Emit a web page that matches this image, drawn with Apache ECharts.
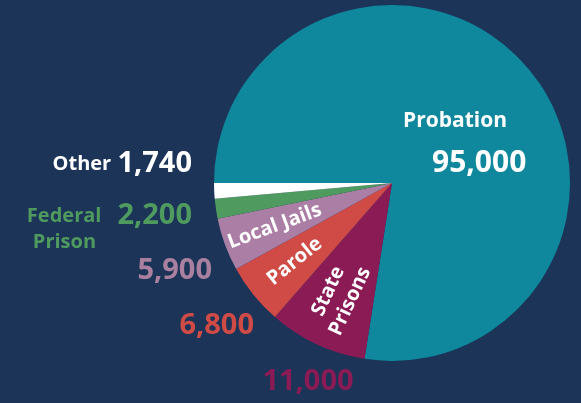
<!DOCTYPE html>
<html>
<head>
<meta charset="utf-8">
<script src="https://cdn.jsdelivr.net/npm/echarts@6/dist/echarts.min.js"></script>
<style>
  html, body { margin: 0; padding: 0; background: #1a3356; }
  #chart { width: 581px; height: 403px; }
</style>
</head>
<body>
<div id="chart"></div>
<script>
// Correctional population by supervision type
const categories = ['Probation', 'State Prisons', 'Parole', 'Local Jails', 'Federal Prison', 'Other'];
const values = [95000, 11000, 6800, 5900, 2200, 1740];
const sliceColors = ['#0f889e', '#8a1b55', '#d04b46', '#ab7fa5', '#4f9b5f', '#ffffff'];
const valueColors = ['#ffffff', '#8a1b55', '#d04b46', '#a9809f', '#4f9b5f', '#ffffff'];
// names drawn inside their wedge (others are written next to the value)
const insideNames = [null, 'State\nPrisons', 'Parole', 'Local Jails', null, null];

const CX = 392, CY = 183, R = 178;
const FONT = '"Open Sans", "Noto Sans", sans-serif';

// where each value label sits, relative to the pie centre
const valueSpots = [
  { dx: 11,   dy: -76, align: 'left',   verticalAlign: 'top' },
  { dx: -84,  dy: 199, align: 'center', verticalAlign: 'middle' },
  { dx: -138, dy: 143, align: 'right',  verticalAlign: 'middle' },
  { dx: -180, dy: 88,  align: 'right',  verticalAlign: 'middle' },
  { dx: -200, dy: 44,  align: 'right',  verticalAlign: 'middle' },
  { dx: -200, dy: -19, align: 'right',  verticalAlign: 'middle' }
];

const fmt = v => v.toLocaleString('en-US');

function valueText(i) {
  const v = fmt(values[i]);
  const name = categories[i];
  if (i === 0) return '{pn|' + name + '}\n{pv|' + v + '}';
  if (i === 4) {
    const parts = name.split(' ');
    return '{n|' + parts[0] + '}{fv|' + v + '}\n{p|' + parts[1] + '}';
  }
  if (i === 5) return '{n|' + name + '}  {v|' + v + '}';
  return '{v|' + v + '}';
}

const chart = echarts.init(document.getElementById('chart'), null, { renderer: 'canvas' });

chart.setOption({
  backgroundColor: '#1b3457',
  animation: false,
  series: [
    {
      type: 'pie',
      center: [CX, CY],
      radius: R,
      startAngle: 180,
      clockwise: true,
      avoidLabelOverlap: false,
      silent: true,
      emphasis: { disabled: true },
      labelLine: { show: false },
      label: {
        show: true,
        position: 'outside',
        fontFamily: FONT,
        fontWeight: 700,
        formatter: p => valueText(p.dataIndex),
        rich: {
          n: { fontFamily: FONT, fontWeight: 700, fontSize: 20, lineHeight: 30 },
          v: { fontFamily: FONT, fontWeight: 700, fontSize: 29, lineHeight: 30 },
          fv: { fontFamily: FONT, fontWeight: 700, fontSize: 29, lineHeight: 30, padding: [0, 0, 0, 16] },
          p: { fontFamily: FONT, fontWeight: 700, fontSize: 20, lineHeight: 22, align: 'left', padding: [0, 0, 0, 6] },
          pn: { fontFamily: FONT, fontWeight: 700, fontSize: 21, lineHeight: 28 },
          pv: { fontFamily: FONT, fontWeight: 700, fontSize: 30, lineHeight: 56, padding: [0, 0, 0, 29] }
        }
      },
      labelLayout: p => {
        const s = valueSpots[p.dataIndex];
        return { x: CX + s.dx, y: CY + s.dy, align: s.align, verticalAlign: s.verticalAlign };
      },
      data: categories.map((c, i) => ({
        name: c,
        value: values[i],
        itemStyle: { color: sliceColors[i] },
        label: { color: valueColors[i] }
      }))
    },
    {
      // transparent ring carrying the wedge names
      type: 'pie',
      center: [CX, CY],
      radius: [66, R],
      startAngle: 180,
      clockwise: true,
      avoidLabelOverlap: false,
      silent: true,
      emphasis: { disabled: true },
      labelLine: { show: false },
      itemStyle: { color: 'rgba(0,0,0,0)' },
      label: {
        position: 'inside',
        rotate: 'radial',
        color: '#ffffff',
        fontFamily: FONT,
        fontWeight: 700,
        fontSize: 20,
        lineHeight: 24,
        formatter: p => insideNames[p.dataIndex] || ''
      },
      data: categories.map((c, i) => ({
        name: c,
        value: values[i],
        label: { show: insideNames[i] !== null }
      }))
    }
  ]
});
</script>
</body>
</html>
